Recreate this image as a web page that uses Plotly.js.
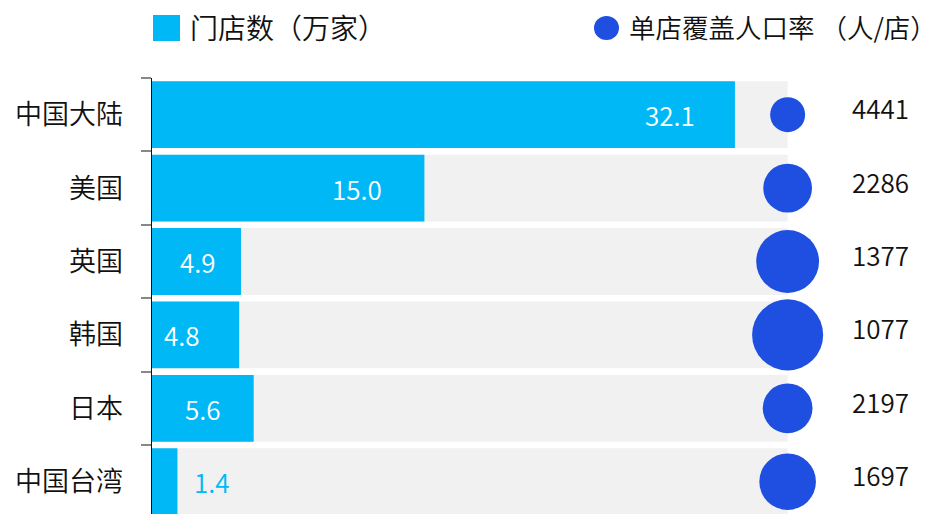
<!DOCTYPE html>
<html>
<head>
<meta charset="utf-8">
<script src="https://cdn.plot.ly/plotly-3.0.1.min.js"></script>
<style>
html,body{margin:0;padding:0;background:#fff;}
#chart{width:940px;height:514px;}
</style>
</head>
<body>
<div id="chart"></div>
<script>
// ---- data ----
const regions = ["中国大陆", "美国", "英国", "韩国", "日本", "中国台湾"];
const storesWan = [32.1, 15.0, 4.9, 4.8, 5.6, 1.4];          // 门店数（万家）
const peoplePerStore = [4441, 2286, 1377, 1077, 2197, 1697]; // 单店覆盖人口率（人/店）
const legendStores = "门店数（万家）";
const legendPeople = "单店覆盖人口率 （人/店）";

// ---- style ----
const CYAN = "#00B8F5";
const BLUE = "#1F4FE0";
const GRAY = "#F1F1F1";
const TXT = "#111111";
const FONT = "Noto Sans CJK SC, Noto Sans, sans-serif";
const FW = 350;
const TRACK = 35;          // x of the gray track end / bubble column
const XMAX = 43.39;
const LABEL_INSET_PX = [65, 67, 43, 57, 51, -35];
const BUBBLE_K = 2332;

const W = 940, H = 514, ML = 152, MT = 78;
const PW = W - ML, PH = H - MT;
const px2x = p => (p - ML) / PW;
const py2y = p => (H - p) / PH;

const track = {
  type: "bar", orientation: "h",
  y: regions, x: regions.map(() => TRACK),
  marker: {color: GRAY}, width: 0.91,
  hoverinfo: "skip", showlegend: false
};
const bars = {
  type: "bar", orientation: "h",
  y: regions, x: storesWan,
  marker: {color: CYAN}, width: 0.91,
  name: legendStores, showlegend: false
};
const bubbles = {
  type: "scatter", mode: "markers",
  y: regions, x: regions.map(() => TRACK),
  marker: {color: BLUE, opacity: 1, size: peoplePerStore.map(v => BUBBLE_K / Math.sqrt(v)), sizemode: "diameter", line: {width: 0}},
  cliponaxis: false,
  name: legendPeople, showlegend: false
};

const annotations = [];
storesWan.forEach((v, i) => {
  const inside = v >= 2;
  annotations.push({
    x: v, y: regions[i], xref: "x", yref: "y",
    text: v.toFixed(1), showarrow: false,
    xanchor: "center", yanchor: "middle",
    xshift: -LABEL_INSET_PX[i],
    font: {family: FONT, size: 26, weight: FW, color: inside ? "#FFFFFF" : CYAN}
  });
});
peoplePerStore.forEach((v, i) => {
  annotations.push({
    x: 38.45, y: regions[i], xref: "x", yref: "y",
    text: String(v), showarrow: false,
    xanchor: "left", yanchor: "middle", yshift: 7,
    font: {family: FONT, size: 26, weight: FW, color: TXT}
  });
});
// legend texts
annotations.push({
  x: px2x(188), y: py2y(27), xref: "paper", yref: "paper",
  text: legendStores, showarrow: false, xanchor: "left", yanchor: "middle",
  font: {family: FONT, size: 28, weight: FW, color: TXT}
});
annotations.push({
  x: px2x(939), y: py2y(27), xref: "paper", yref: "paper",
  text: legendPeople, showarrow: false, xanchor: "right", yanchor: "middle",
  font: {family: FONT, size: 26.5, weight: FW, color: TXT}
});

const shapes = [
  {type: "rect", xref: "paper", yref: "paper",
   x0: px2x(153), x1: px2x(180), y0: py2y(41), y1: py2y(15),
   fillcolor: CYAN, line: {width: 0}},
  {type: "circle", xref: "paper", yref: "paper",
   x0: px2x(594), x1: px2x(619), y0: py2y(40), y1: py2y(16),
   fillcolor: BLUE, line: {width: 0}}
];

const layout = {
  width: W, height: H,
  margin: {l: ML, r: 0, t: MT, b: 0, pad: 0},
  paper_bgcolor: "#FFFFFF", plot_bgcolor: "#FFFFFF",
  barmode: "overlay",
  showlegend: false,
  xaxis: {range: [0, XMAX], visible: false, fixedrange: true},
  yaxis: {
    type: "category", range: [5.44, -0.5],
    showline: true, linecolor: TXT, linewidth: 1.5,
    ticks: "outside", tickson: "boundaries", ticklen: 10, tickcolor: "#888888", tickwidth: 2,
    ticklabelstandoff: 22,
    showgrid: false, zeroline: false,
    tickfont: {family: FONT, size: 27, weight: FW, color: TXT}
  },
  annotations: annotations,
  shapes: shapes,
  font: {family: FONT}
};

Plotly.newPlot("chart", [track, bars, bubbles], layout, {displayModeBar: false, staticPlot: true});
</script>
</body>
</html>
